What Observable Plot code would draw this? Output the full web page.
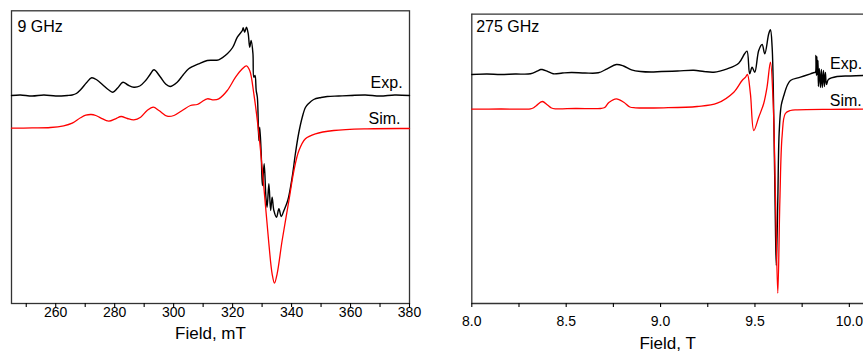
<!DOCTYPE html>
<html><head><meta charset="utf-8">
<script src="https://cdn.jsdelivr.net/npm/d3@7"></script>
<script src="https://cdn.jsdelivr.net/npm/@observablehq/plot@0.6"></script>
<style>
html,body{margin:0;padding:0;background:#fff;overflow:hidden;}
#wrap{display:flex;width:863px;height:351px;overflow:hidden;}
</style></head><body><div id="wrap"></div>
<script>
// ---- 9 GHz panel (field in mT, intensity in arbitrary units) ----
const expLeft = [[245,208],[248,208.5],[252,207.5],[256,208.5],[260,207.5],[264,208],[265.6,208.5],[267,210],[268.5,214],[270.5,221],[272.2,225.7],[274,223.5],[276,218.5],[278,213.5],[279.4,211.3],[281,215.5],[282.8,221.3],[284.5,218.5],[286.5,216.3],[288.5,217.5],[290.5,223],[292,229],[293.3,233.7],[295.5,226.5],[297.3,219.5],[298.8,217],[301.2,221.3],[303.2,228.5],[305.1,234.7],[308.5,239.7],[311.4,243],[315.3,243.7],[318.2,249.7],[320,256],[321.6,266.3],[323.3,273],[323.6,275.7],[324.1,271.3],[324.7,276.3],[325.3,269.7],[325.8,256.3],[326.3,263],[326.9,249.7],[327.2,226.3],[327.6,228],[328.0,213],[328.4,206],[328.9,163],[329.2,176.3],[329.7,149.7],[330.1,118],[330.7,139.7],[331.3,106.3],[331.7,96.3],[332.3,119.7],[332.9,93],[333.4,106.3],[334.0,93],[334.9,86.3],[335.7,94.7],[336.5,87],[337.4,93],[338.7,103],[340.2,126.3],[341.3,150],[342.4,170],[343.6,186],[344.7,196],[345.8,200],[347.5,204],[350,206],[352.1,207],[356,207.5],[360,208],[365,208.5],[370,207.5],[375,208.5],[380,208]];
const simLeft = [[245,175.3],[252,175.6],[258.2,176],[262.7,177.7],[265.6,180.3],[268.4,185.7],[270.2,188.3],[272.0,189],[273.6,188],[275.2,185.7],[278.0,182.3],[280.3,184.7],[282.2,187],[284.3,185],[286.5,183.7],[288.8,186.3],[291.0,193],[293.1,196.3],[295.0,193],[297.8,187.3],[300.1,188],[302.9,193],[305.7,198],[308.0,199],[309.7,202],[311.4,204.7],[313.6,203.7],[315.3,204.7],[318.2,213],[321.0,226.3],[323.3,234.7],[324.7,237.7],[325.8,233],[327.2,209.7],[328.9,169.7],[330.6,116.3],[332.3,59.7],[333.4,29.7],[334.2,20.3],[335.1,29.7],[336.8,63],[339.1,103],[340.8,133],[342.5,153],[344.7,164.7],[348.1,169.7],[354.3,173],[365.7,174.7],[380,175]];
const leftMajorTicks = [260,280,300,320,340,360,380];
const leftMinorTicks = [250,270,290,310,330,350,370];
const leftLabels = [{label:"Exp.", field:366.8, intensity:215.5},{label:"Sim.", field:366.1, intensity:179.7}];

// ---- 275 GHz panel (field in T) ----
const expRight = [[8.000,229],[8.08,229.5],[8.152,229],[8.23,229.5],[8.311,229.7],[8.346,232.3],[8.365,234],[8.373,234],[8.399,232.3],[8.431,229.7],[8.48,230.5],[8.528,231],[8.60,230.5],[8.670,230.7],[8.717,234.7],[8.766,239],[8.804,237.5],[8.846,233.7],[8.894,232],[8.95,231.5],[9.005,232],[9.09,232.5],[9.176,233.3],[9.23,232],[9.282,231.3],[9.353,234.7],[9.414,240.3],[9.445,249.7],[9.458,252.3],[9.472,229.7],[9.485,236.3],[9.499,231.3],[9.520,253],[9.538,259],[9.552,249.7],[9.573,269.7],[9.582,273.7],[9.591,256.3],[9.600,183],[9.609,69.7],[9.613,38],[9.621,103],[9.628,169.7],[9.639,198],[9.653,208],[9.671,218],[9.688,223],[9.741,226.3],[9.794,229.7],[9.815,231],[9.820,231],[9.823,248],[9.826,228],[9.828,247],[9.831,229],[9.834,243],[9.836,217],[9.841,235],[9.847,216],[9.852,234],[9.857,216],[9.863,233],[9.868,217],[9.873,231],[9.879,219],[9.889,224],[9.935,227],[10.006,227.5],[10.075,228]];
const simRight = [[8.000,194.3],[8.15,194.5],[8.311,194.7],[8.325,195.5],[8.343,198],[8.373,202],[8.401,198.5],[8.422,195.5],[8.443,194.7],[8.55,195],[8.682,195],[8.704,196],[8.726,201],[8.766,204.7],[8.805,201.3],[8.837,196.5],[8.867,195.7],[9.017,195.7],[9.194,197],[9.300,200.3],[9.388,211.3],[9.432,223],[9.450,226.3],[9.460,229],[9.476,209.7],[9.494,173],[9.520,186.3],[9.546,199.7],[9.564,216.3],[9.582,241.3],[9.596,203],[9.609,103],[9.621,10.3],[9.632,103],[9.644,168],[9.661,190],[9.688,193],[9.724,193.7],[9.9,194.2],[10.075,194.3]];
const rightMajorTicks = [8.0,8.5,9.0,9.5,10.0];
const rightMinorTicks = [8.25,8.75,9.25,9.75];
const rightLabels = [{label:"Exp.", field:9.898, intensity:235},{label:"Sim.", field:9.896, intensity:198}];

const font = "'Liberation Sans', Arial, Helvetica, sans-serif";
const toRows = a => a.map(([field, intensity]) => ({field, intensity}));

function panel(o) {
  const marks = [];
  if (o.fullFrame) marks.push(Plot.frame({stroke: "#333", strokeWidth: 1.3}));
  else {
    marks.push(Plot.ruleX([o.xDomain[0]], {stroke: "#333", strokeWidth: 1.3}));
    marks.push(Plot.ruleY([o.yDomain[0], o.yDomain[1]], {stroke: "#333", strokeWidth: 1.3}));
  }
  marks.push(
    Plot.axisX({ticks: o.major, tickSize: 4, tickPadding: o.pad, tickFormat: o.fmt, fontSize: 14, label: null, strokeWidth: 1.1}),
    Plot.axisX({ticks: o.minor, tickSize: 4, tickFormat: () => "", label: null, strokeWidth: 1.1}),
    Plot.lineY(toRows(o.exp), {x: "field", y: "intensity", stroke: "#000", strokeWidth: 1.4, curve: "catmull-rom"}),
    Plot.lineY(toRows(o.sim), {x: "field", y: "intensity", stroke: "#ff0000", strokeWidth: 1.3, curve: "catmull-rom"}),
    Plot.text(o.labels, {x: "field", y: "intensity", text: "label", textAnchor: "start", lineAnchor: "bottom", fontSize: 16, fill: "#000"}),
    Plot.text([o.freq], {frameAnchor: "top-left", dx: o.fdx, dy: o.fdy, textAnchor: "start", lineAnchor: "top", fontSize: 16, fill: "#000"}),
    Plot.text([o.title], {frameAnchor: "bottom", dy: o.tdy, lineAnchor: "bottom", fontSize: 17, fill: "#000"})
  );
  return Plot.plot({
    width: o.width, height: 351,
    marginLeft: o.ml, marginRight: o.mr, marginTop: o.mt, marginBottom: 48,
    x: {domain: o.xDomain},
    y: {domain: o.yDomain, axis: null},
    style: {fontFamily: font, background: "#fff", color: "#000"},
    marks
  });
}

const wrap = document.getElementById("wrap");
wrap.appendChild(panel({
  width: 430, ml: 11, mr: 21, mt: 10.3, xDomain: [245, 380], yDomain: [0, 292.7],
  exp: expLeft, sim: simLeft, major: leftMajorTicks, minor: leftMinorTicks, fmt: d3.format("d"), pad: 0,
  labels: leftLabels, freq: "9 GHz", fdx: 6, fdy: 9.5, title: "Field, mT", tdy: 35, fullFrame: true
}));
wrap.appendChild(panel({
  width: 433, ml: 41.3, mr: 0, mt: 13.7, xDomain: [8, 10.075], yDomain: [0, 289.3],
  exp: expRight, sim: simRight, major: rightMajorTicks, minor: rightMinorTicks, fmt: d3.format(".1f"), pad: 9,
  labels: rightLabels, freq: "275 GHz", fdx: 4.4, fdy: 6.3, title: "Field, T", tdy: 45, fullFrame: false
}));
</script></body></html>
